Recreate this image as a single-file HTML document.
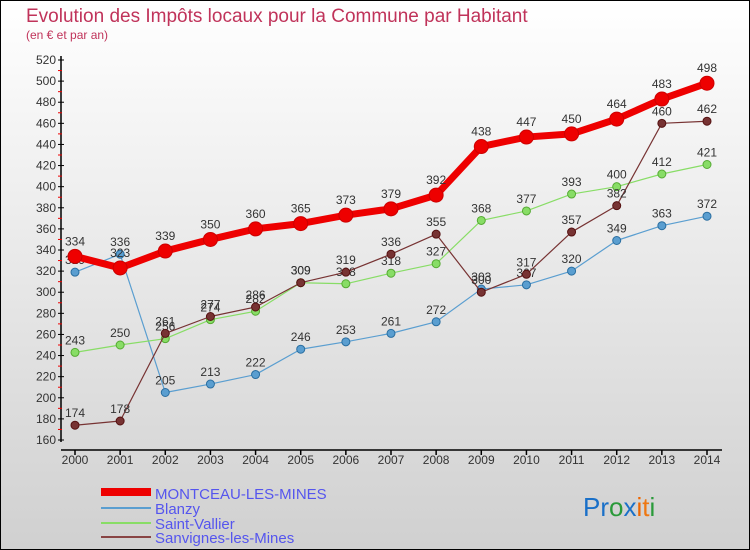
<!DOCTYPE html>
<html><head><meta charset="utf-8"><style>
body{margin:0;width:750px;height:550px;overflow:hidden;font-family:"Liberation Sans",sans-serif}
svg{display:block}
</style></head><body>
<svg id="c" width="750" height="550" xmlns="http://www.w3.org/2000/svg">
<defs><linearGradient id="bg" x1="0" y1="0" x2="0" y2="1"><stop offset="0" stop-color="#ffffff"/><stop offset="1" stop-color="#d0d0d0"/></linearGradient></defs>
<rect x="0.5" y="0.5" width="749" height="549" fill="url(#bg)" stroke="#000"/>
<text x="26" y="22" font-size="19" fill="#c0335a">Evolution des Impôts locaux pour la Commune par Habitant</text>
<text x="26" y="39" font-size="12" fill="#c0335a">(en € et par an)</text>
<g id="axes"></g><g id="series"></g>
<g>
<line x1="101" y1="492" x2="151" y2="492" stroke="#ee0000" stroke-width="8"/>
<text x="155" y="499" font-size="15" fill="#5555ee">MONTCEAU-LES-MINES</text>
<line x1="101" y1="508" x2="151" y2="508" stroke="#5a9ed0" stroke-width="2"/>
<text x="155" y="514" font-size="15" fill="#5555ee">Blanzy</text>
<line x1="101" y1="523" x2="151" y2="523" stroke="#88dd66" stroke-width="2"/>
<text x="155" y="529" font-size="15" fill="#5555ee">Saint-Vallier</text>
<line x1="101" y1="537" x2="151" y2="537" stroke="#884444" stroke-width="2"/>
<text x="155" y="543" font-size="15" fill="#5555ee">Sanvignes-les-Mines</text>
</g>
<text x="583" y="516" font-size="26"><tspan fill="#1a70c8">Pr</tspan><tspan fill="#2a9a3a">o</tspan><tspan fill="#1a70c8">x</tspan><tspan fill="#ee6600">i</tspan><tspan fill="#ee7711">t</tspan><tspan fill="#2a9a3a">i</tspan></text>
</svg>
<script>
const years=[2000,2001,2002,2003,2004,2005,2006,2007,2008,2009,2010,2011,2012,2013,2014];
const montceau=[334,323,339,350,360,365,373,379,392,438,447,450,464,483,498];
const blanzy=[319,336,205,213,222,246,253,261,272,303,307,320,349,363,372];
const saintVallier=[243,250,256,274,282,309,308,318,327,368,377,393,400,412,421];
const sanvignes=[174,178,261,277,286,309,319,336,355,300,317,357,382,460,462];
const yTicks=[160,180,200,220,240,260,280,300,320,340,360,380,400,420,440,460,480,500,520];
const NS='http://www.w3.org/2000/svg';
const x=i=>75+i*(707-75)/(years.length-1);
const y=v=>440-(v-160)*(380/360);
function mk(t,a,p){const e=document.createElementNS(NS,t);for(const k in a)e.setAttribute(k,a[k]);p.appendChild(e);return e;}
const ax=document.getElementById('axes');
const yl=mk('line',{x1:61,y1:56,x2:61,y2:442,stroke:'#000','stroke-width':1.5},ax);


const xl=mk('line',{x1:61,y1:450,x2:722,y2:450,stroke:'#000','stroke-width':1.5},ax);


yTicks.forEach((v,i)=>{
  mk('line',{x1:58,y1:y(v),x2:64,y2:y(v),stroke:'#000'},ax);
  if(i<yTicks.length-1)mk('line',{x1:58,y1:y(v+10),x2:62,y2:y(v+10),stroke:'#e00'},ax);
  const t=mk('text',{x:56,y:y(v)+4,'font-size':12,fill:'#333','text-anchor':'end'},ax);t.textContent=v;
  
  
});
years.forEach((yr,i)=>{
  mk('line',{x1:x(i),y1:450,x2:x(i),y2:455,stroke:'#000','stroke-width':1.5},ax);
  const t=mk('text',{x:x(i),y:464,'font-size':12,fill:'#333','text-anchor':'middle'},ax);t.textContent=yr;
  
  
});
const sg=document.getElementById('series');
function series(vals,color,w,r,name,stroke){
  const g=mk('g',{},sg);
  
  
  const p=mk('polyline',{points:vals.map((v,i)=>x(i)+','+y(v)).join(' '),fill:'none',stroke:color,'stroke-width':w,'stroke-linejoin':'round'},g);
  
  
  vals.forEach((v,i)=>{
    const c=mk('circle',{cx:x(i),cy:y(v),r:r,fill:color,stroke:stroke,'stroke-width':1},g);
    
    
    const t=mk('text',{x:x(i),y:y(v)-r-4,'font-size':12,fill:'#333','text-anchor':'middle'},g);t.textContent=v;
    
    
  });
}
series(blanzy,'#5a9ed0',1.2,4,'series-blanzy','#2a6ea0');
series(saintVallier,'#88dd66',1.2,4,'series-saint-vallier','#55aa33');
series(sanvignes,'#773333',1.2,4,'series-sanvignes','#551111');
series(montceau,'#ee0000',7,7,'series-montceau','#cc0000');
</script>
</body></html>
